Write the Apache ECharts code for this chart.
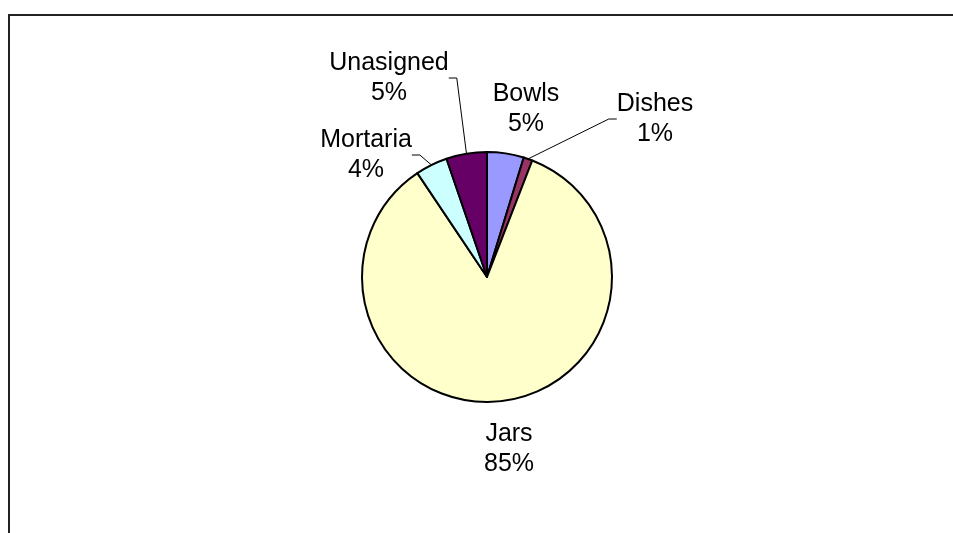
<!DOCTYPE html>
<html>
<head>
<meta charset="utf-8">
<script src="https://cdn.jsdelivr.net/npm/echarts@6/dist/echarts.min.js"></script>
<style>
html,body{margin:0;padding:0;background:#fff;}
#c{width:953px;height:533px;}
</style>
</head>
<body>
<div id="c"></div>
<script>
var categories = ['Bowls', 'Dishes', 'Jars', 'Mortaria', 'Unasigned'];
var values = [4.75, 1.15, 84.7, 4.15, 5.25];
var colors = ['#9999FF', '#993366', '#FFFFCC', '#CCFFFF', '#660066'];
var showLeader = [false, true, false, true, true];
var labelPos = [[526, 109], [655, 119], [509, 449], [366, 155], [389, 78]];

var chart = echarts.init(document.getElementById('c'), null, {renderer: 'canvas'});
var data = categories.map(function (n, i) {
  return {
    name: n,
    value: values[i],
    itemStyle: {color: colors[i]},
    labelLine: {show: showLeader[i]}
  };
});
chart.setOption({
  animation: false,
  backgroundColor: '#fff',
  graphic: [{
    type: 'polyline',
    shape: {points: [[9, 533], [9, 15], [953, 15]]},
    style: {stroke: '#222', lineWidth: 2, fill: null}
  }],
  series: [{
    type: 'pie',
    center: [487, 277],
    radius: 125,
    startAngle: 90,
    clockwise: true,
    avoidLabelOverlap: false,
    itemStyle: {borderColor: '#000', borderWidth: 2},
    label: {
      show: true,
      position: 'outside',
      fontFamily: 'Liberation Sans, Arial, sans-serif',
      fontSize: 25,
      lineHeight: 30,
      color: '#000',
      align: 'center',
      formatter: function (p) { return p.name + '\n' + Math.round(p.percent) + '%'; }
    },
    labelLine: {show: true, length: 8, length2: 8, lineStyle: {color: '#000', width: 1}},
    labelLayout: function (p) {
      var q = labelPos[p.dataIndex];
      return {x: q[0], y: q[1], align: 'center', verticalAlign: 'middle'};
    },
    emphasis: {disabled: true},
    data: data
  }]
});
</script>
</body>
</html>
